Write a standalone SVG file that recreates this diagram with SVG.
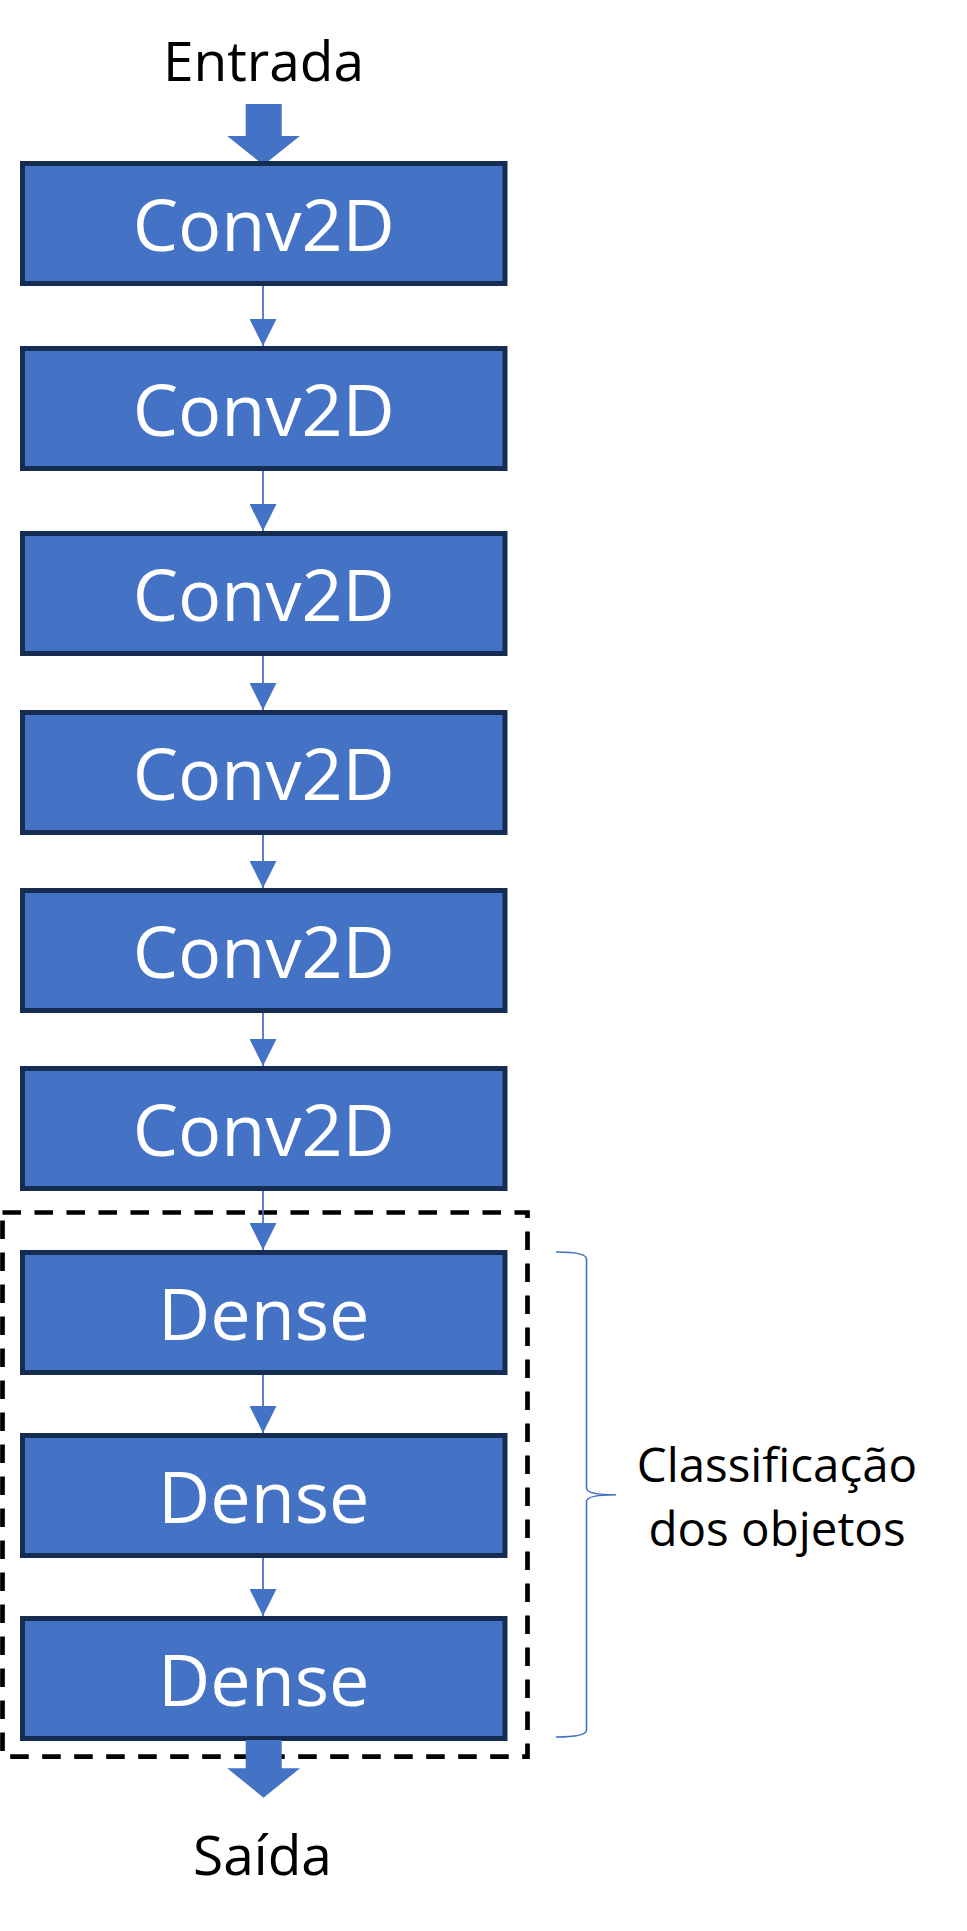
<svg xmlns="http://www.w3.org/2000/svg" width="967" height="1931" viewBox="0 0 967 1931">
  <defs>
    <style>
      .box rect { fill: #4472C4; stroke: #172C51; stroke-width: 5; }
      .box text { fill: #FFFFFF; font-family: "Open Sans", "Noto Sans", sans-serif; font-size: 72px; text-anchor: middle; }
      .lbl { fill: #000000; font-family: "Open Sans", "Noto Sans", sans-serif; text-anchor: middle; }
      .conn line { stroke: #4472C4; stroke-width: 1.75; marker-end: url(#ah); }
      .block { fill: #4472C4; }
    </style>
    <marker id="ah" markerUnits="userSpaceOnUse" markerWidth="27" markerHeight="27" viewBox="0 0 27 27" refX="27" refY="13.5" orient="auto">
      <path d="M0,0 L27,13.5 L0,27 z" fill="#4472C4"/>
    </marker>
  </defs>
  <rect width="967" height="1931" fill="#FFFFFF"/>

  <text class="lbl" x="263.5" y="81" font-size="55">Entrada</text>
  <polygon id="arrow-in" class="block" points="245.7,104 281.7,104 281.7,136 299.9,136 263.5,165 227.2,136 245.7,136"/>

  <g id="group-classificacao">
    <rect x="2.5" y="1212.5" width="525" height="544.2" fill="none" stroke="#000000" stroke-width="4.7" stroke-dasharray="18.5 13.5"/>
  </g>

  <g id="conv1" class="box"><rect x="22.5" y="163.5" width="482.5" height="120"/><text x="263.75" y="250.5">Conv2D</text></g>
  <g id="conv2" class="box"><rect x="22.5" y="348.5" width="482.5" height="120"/><text x="263.75" y="435.5">Conv2D</text></g>
  <g id="conv3" class="box"><rect x="22.5" y="533.5" width="482.5" height="120"/><text x="263.75" y="620.5">Conv2D</text></g>
  <g id="conv4" class="box"><rect x="22.5" y="712.5" width="482.5" height="120"/><text x="263.75" y="799.5">Conv2D</text></g>
  <g id="conv5" class="box"><rect x="22.5" y="890.5" width="482.5" height="120"/><text x="263.75" y="977.5">Conv2D</text></g>
  <g id="conv6" class="box"><rect x="22.5" y="1068.5" width="482.5" height="120"/><text x="263.75" y="1155.5">Conv2D</text></g>
  <g id="dense1" class="box"><rect x="22.5" y="1252.5" width="482.5" height="120"/><text x="263.75" y="1339.5">Dense</text></g>
  <g id="dense2" class="box"><rect x="22.5" y="1435.5" width="482.5" height="120"/><text x="263.75" y="1522.5">Dense</text></g>
  <g id="dense3" class="box"><rect x="22.5" y="1618.5" width="482.5" height="120"/><text x="263.75" y="1705.5">Dense</text></g>

  <g id="connectors" class="conn">
    <line x1="263" y1="286" x2="263" y2="346"/>
    <line x1="263" y1="471" x2="263" y2="531"/>
    <line x1="263" y1="656" x2="263" y2="710"/>
    <line x1="263" y1="835" x2="263" y2="888"/>
    <line x1="263" y1="1013" x2="263" y2="1066"/>
    <line x1="263" y1="1191" x2="263" y2="1250"/>
    <line x1="263" y1="1375" x2="263" y2="1433"/>
    <line x1="263" y1="1558" x2="263" y2="1616"/>
  </g>

  <polygon id="arrow-out" class="block" points="245.7,1740 281.7,1740 281.7,1768.3 300,1768.3 263.5,1797.7 227.3,1768.3 245.7,1768.3"/>
  <text class="lbl" x="262.5" y="1875" font-size="55">Saída</text>

  <g id="brace">
    <path d="M556,1252 Q586.5,1252 586.5,1259 L586.5,1488 Q586.5,1494.8 616,1494.8 Q586.5,1494.8 586.5,1501.6 L586.5,1730 Q586.5,1737 556,1737" fill="none" stroke="#4472C4" stroke-width="1.6"/>
    <text class="lbl" x="777" y="1482.4" font-size="47.5">Classificação</text>
    <text class="lbl" x="777" y="1546.4" font-size="47.5">dos objetos</text>
  </g>
</svg>
